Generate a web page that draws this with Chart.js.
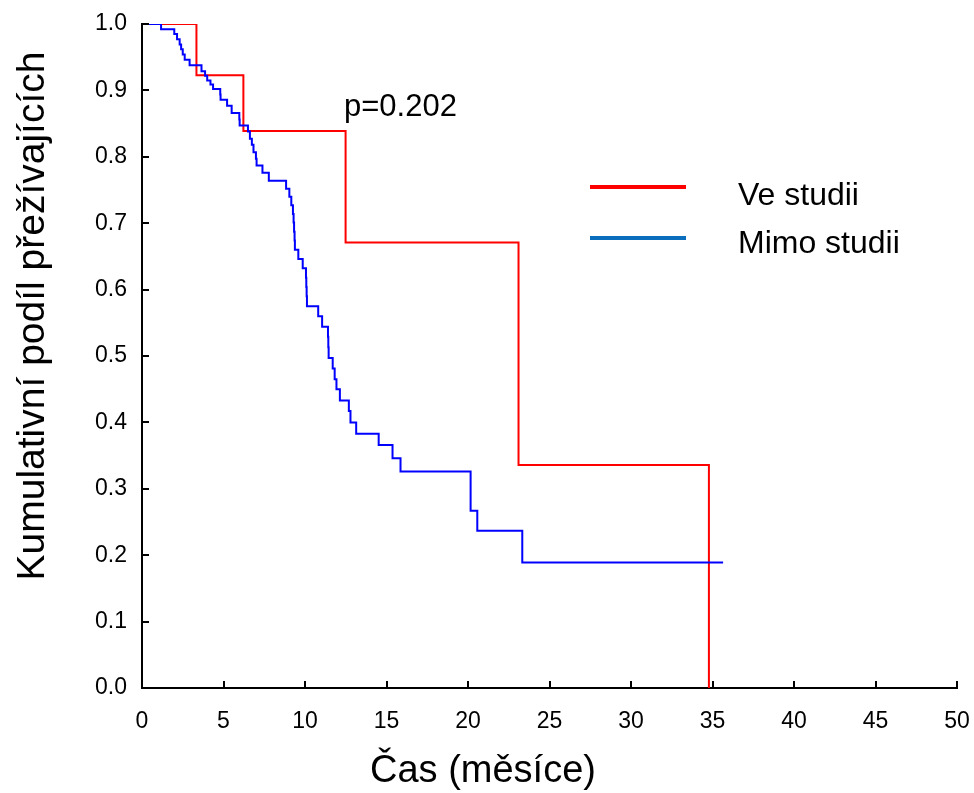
<!DOCTYPE html>
<html>
<head>
<meta charset="utf-8">
<title>Kumulativní podíl přežívajících</title>
<script src="https://cdn.jsdelivr.net/npm/chart.js@4/dist/chart.umd.min.js"></script>
<style>
  html, body { margin: 0; padding: 0; background: #ffffff; }
  #wrap { width: 974px; height: 793px; }
</style>
</head>
<body>
<div id="wrap"><canvas id="km" width="974" height="793"></canvas></div>
<script>
// Axis ticks
const xTickValues = [0, 5, 10, 15, 20, 25, 30, 35, 40, 45, 50];
const yTickValues = [0, 0.1, 0.2, 0.3, 0.4, 0.5, 0.6, 0.7, 0.8, 0.9, 1.0];

// Kaplan–Meier curve: "Ve studii" (time in months, survival after the step)
const studyTimes = [0, 3.34, 6.22, 12.49, 23.10, 34.78];
const studySurv  = [1.0, 0.923, 0.839, 0.671, 0.336, 0.0];

// Kaplan–Meier curve: "Mimo studii"
const outsideTimes = [
  0, 1.17, 1.98, 2.15, 2.31, 2.40, 2.50, 2.62, 2.92, 3.65,
  3.87, 4.00, 4.20, 4.36, 4.80, 4.82, 5.22, 5.50, 5.97, 5.99,
  6.50, 6.62, 6.74, 6.84, 6.99, 7.03, 7.39, 7.78, 8.84, 9.04,
  9.16, 9.26, 9.30, 9.33, 9.36, 9.38, 9.59, 9.86, 10.06, 10.08,
  10.10, 10.12, 10.81, 11.05, 11.41, 11.43, 11.45, 11.70, 11.82, 11.93,
  12.14, 12.69, 12.79, 13.14, 14.52, 15.37, 15.86, 20.16, 20.57, 23.33,
  35.65
];
const outsideSurv = [
  1.0, 0.992, 0.985, 0.977, 0.969, 0.962, 0.954, 0.946, 0.938, 0.929,
  0.922, 0.915, 0.909, 0.902, 0.894, 0.886, 0.877, 0.866, 0.856, 0.847,
  0.838, 0.827, 0.818, 0.807, 0.797, 0.787, 0.776, 0.764, 0.752, 0.740,
  0.727, 0.714, 0.701, 0.687, 0.674, 0.660, 0.646, 0.632, 0.618, 0.604,
  0.590, 0.575, 0.560, 0.544, 0.529, 0.513, 0.497, 0.481, 0.465, 0.450,
  0.433, 0.417, 0.400, 0.383, 0.366, 0.346, 0.326, 0.267, 0.237, 0.189,
  0.189
];

const seriesNames = ['Ve studii', 'Mimo studii'];
const pValueText = 'p=0.202';
const xTitle = 'Čas (měsíce)';
const yTitle = 'Kumulativní podíl přežívajících';

const FONT = "'Liberation Sans', Arial, Helvetica, sans-serif";

function toPoints(times, surv) {
  return times.map((t, i) => ({ x: t, y: surv[i] }));
}

// Fixed axis box sizes; the plot area itself is set by layout padding
function fixBox(s, size) {
  if (s.isHorizontal()) s.height = size; else s.width = size;
  s.paddingLeft = 0;
  s.paddingRight = 0;
  s.paddingTop = 0;
  s.paddingBottom = 0;
}

// Inward tick marks on both axes
const inwardTicks = {
  id: 'inwardTicks',
  afterDraw(chart) {
    const { ctx, chartArea, scales } = chart;
    ctx.save();
    ctx.strokeStyle = '#000';
    ctx.lineWidth = 2;
    ctx.beginPath();
    scales.x.ticks.forEach(t => {
      const px = Math.round(scales.x.getPixelForValue(t.value));
      ctx.moveTo(px, chartArea.bottom);
      ctx.lineTo(px, chartArea.bottom - 7);
    });
    scales.y.ticks.forEach(t => {
      const py = Math.round(scales.y.getPixelForValue(t.value));
      ctx.moveTo(chartArea.left, py);
      ctx.lineTo(chartArea.left + 7, py);
    });
    ctx.stroke();
    ctx.restore();
  }
};

// Axis titles, legend and p-value label
const annotations = {
  id: 'annotations',
  afterDraw(chart) {
    const { ctx } = chart;
    ctx.save();
    ctx.fillStyle = '#000';

    // axis titles
    ctx.font = `38px ${FONT}`;
    ctx.textAlign = 'center';
    ctx.textBaseline = 'middle';
    ctx.fillText(xTitle, 483, 772);
    ctx.save();
    ctx.translate(33, 316);
    ctx.rotate(-Math.PI / 2);
    ctx.font = `39px ${FONT}`;
    ctx.fillText(yTitle, 0, 0);
    ctx.restore();

    // p-value
    ctx.font = `31px ${FONT}`;
    ctx.textAlign = 'left';
    ctx.textBaseline = 'alphabetic';
    ctx.fillText(pValueText, 344, 116);

    // legend
    const colors = ['#ff0000', '#0a6ebd'];
    const lineRows = [187, 238];
    const textRows = [205, 253];
    lineRows.forEach((y, i) => {
      ctx.strokeStyle = colors[i];
      ctx.lineWidth = 4;
      ctx.beginPath();
      ctx.moveTo(590, y);
      ctx.lineTo(686, y);
      ctx.stroke();
      ctx.fillStyle = '#000';
      ctx.font = `32px ${FONT}`;
      ctx.fillText(seriesNames[i], 738, textRows[i]);
    });
    ctx.restore();
  }
};

new Chart(document.getElementById('km'), {
  type: 'line',
  data: {
    datasets: [
      {
        label: seriesNames[1],
        data: toPoints(outsideTimes, outsideSurv),
        borderColor: '#0000ff',
        borderWidth: 2,
        stepped: 'before',
        pointRadius: 0,
        fill: false,
        borderJoinStyle: 'miter',
        borderCapStyle: 'butt'
      },
      {
        label: seriesNames[0],
        data: toPoints(studyTimes, studySurv),
        borderColor: '#ff0000',
        borderWidth: 2,
        stepped: 'before',
        pointRadius: 0,
        fill: false,
        borderJoinStyle: 'miter',
        borderCapStyle: 'butt'
      }
    ]
  },
  options: {
    responsive: false,
    devicePixelRatio: 1,
    animation: false,
    layout: { padding: { left: 0, top: 24, right: 17, bottom: 0 } },
    plugins: {
      legend: { display: false },
      tooltip: { enabled: false },
      title: { display: false }
    },
    scales: {
      x: {
        type: 'linear',
        min: 0,
        max: 50,
        afterBuildTicks: s => { s.ticks = xTickValues.map(v => ({ value: v })); },
        afterFit: s => fixBox(s, 105),
        grid: { display: false, drawTicks: false },
        border: { display: true, color: '#000', width: 2 },
        ticks: {
          color: '#000',
          font: { family: FONT, size: 23 },
          padding: 20,
          maxRotation: 0,
          autoSkip: false,
          callback: v => String(v)
        }
      },
      y: {
        type: 'linear',
        min: 0,
        max: 1,
        afterBuildTicks: s => { s.ticks = yTickValues.map(v => ({ value: v })); },
        afterFit: s => fixBox(s, 142),
        grid: { display: false, drawTicks: false },
        border: { display: true, color: '#000', width: 2 },
        ticks: {
          color: '#000',
          font: { family: FONT, size: 23 },
          padding: 15,
          autoSkip: false,
          callback: v => Number(v).toFixed(1)
        }
      }
    }
  },
  plugins: [inwardTicks, annotations]
});
</script>
</body>
</html>
